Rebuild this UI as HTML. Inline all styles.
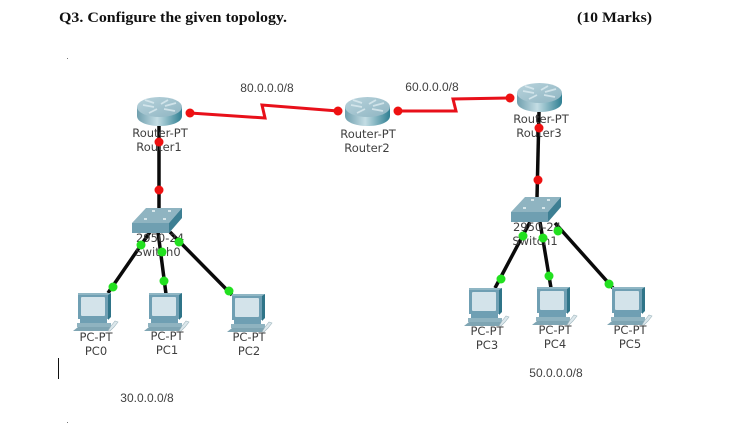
<!DOCTYPE html>
<html><head><meta charset="utf-8"><style>
html,body{margin:0;padding:0;background:#fff}
svg{display:block}
.l{font-family:"DejaVu Sans","Liberation Sans",sans-serif;font-size:11.500px;fill:#3f3f3f;text-anchor:middle}
.n{font-family:"Liberation Sans",sans-serif;font-size:12px;fill:#3f3f3f;text-anchor:middle}
.t{font-family:"Liberation Serif",serif;font-weight:bold;font-size:15px;fill:#111}
</style></head><body>
<svg width="729" height="431" viewBox="0 0 729 431" xmlns="http://www.w3.org/2000/svg">
<defs>
<linearGradient id="rs" x1="0" x2="1" y1="0" y2="0"><stop offset="0" stop-color="#6f9fae"/><stop offset=".45" stop-color="#c4dde4"/><stop offset="1" stop-color="#2f7f92"/></linearGradient>
<linearGradient id="rt" x1="0" x2="1" y1="0" y2="1"><stop offset="0" stop-color="#b8d3dc"/><stop offset="1" stop-color="#8fb5c2"/></linearGradient>
<g id="router">
<path d="M0 10V19C0 25 10 29 22.500 29S45 25 45 19V10Z" fill="url(#rs)"/>
<ellipse cx="22.500" cy="10" rx="22.500" ry="10" fill="url(#rt)"/>
<path d="M6 8L17 10M28 9L39 6M27 12L38 14M17 6L8 3M12 16L20 12M24 7L31 3" stroke="#dcebf0" stroke-width="1.800" fill="none" opacity=".8"/>
</g>
<g id="switch">
<path d="M0 15L14 0H50L37 15Z" fill="#8fb4c1"/>
<path d="M0 15H37V25H0Z" fill="#6f9fb1"/>
<path d="M37 15L50 0V10L37 25Z" fill="#3d7f93"/>
<path d="M12 11h3M31 11h3M20 3h3M36 3h3" stroke="#eef6f8" stroke-width="1.400"/>
</g>
<g id="pc">
<path d="M5 1H35V26H5Z" fill="#6f9fb3"/>
<path d="M35 1L38 0V24L35 27Z" fill="#2f7488"/>
<path d="M5 0H38L35 2H5Z" fill="#8fb6c4"/>
<rect x="8" y="4" width="24" height="19" rx="1" fill="#d3e3ea"/>
<path d="M7 26H34V30H7Z" fill="#6f9fb3"/>
<path d="M4 30H38V34H4Z" fill="#8fb3c0"/>
<path d="M0 38L5 34H38L35 38Z" fill="#7fa5b3"/>
<path d="M38 33L42 28L45 29L41 34L37 38H35Z" fill="#dde8ec" stroke="#9db5bd" stroke-width=".6"/>
</g>
</defs>

<text class="t" x="59" y="22" textLength="228" lengthAdjust="spacingAndGlyphs">Q3. Configure the given topology.</text>
<text class="t" x="577" y="22" textLength="75" lengthAdjust="spacingAndGlyphs">(10 Marks)</text>
<rect x="67" y="58" width="1" height="1" fill="#777"/>
<rect x="67" y="422" width="1" height="1" fill="#777"/>
<rect x="58" y="358" width="1" height="21" fill="#111"/>

<g fill="none" stroke="#e8101a" stroke-width="3">
<path d="M190 113L265 118L262 105L338 111"/>
<path d="M398 111L456 111L453 99L510 98"/>
</g>
<g fill="none" stroke="#0a0a0a" stroke-width="3.500">
<path d="M159 125L159 210"/>
<path d="M539 112L537 198"/>
<path d="M150 232L108 293M158 232L166 294M170 232L232 295"/>
<path d="M530 222L495 288M540 222L551 288M555 223L613 288"/>
</g>

<use href="#router" x="137" y="97"/>
<use href="#router" x="345" y="97"/>
<use href="#router" x="517" y="83"/>
<use href="#switch" x="132" y="208"/>
<use href="#switch" x="511" y="197"/>
<use href="#pc" x="73" y="293"/>
<use href="#pc" x="144" y="293"/>
<use href="#pc" x="227" y="294"/>
<use href="#pc" x="464" y="288"/>
<use href="#pc" x="532" y="287"/>
<use href="#pc" x="607" y="287"/>

<g>
<text class="l" x="160" y="137">Router-PT</text><text class="l" x="159" y="151">Router1</text>
<text class="l" x="368" y="138">Router-PT</text><text class="l" x="367" y="152">Router2</text>
<text class="l" x="541" y="123">Router-PT</text><text class="l" x="539" y="137">Router3</text>
<text class="l" x="160" y="242">2950-24</text><text class="l" x="158" y="256">Switch0</text>
<text class="l" x="537" y="231">2950-24</text><text class="l" x="535" y="245">Switch1</text>
<text class="l" x="96" y="341">PC-PT</text><text class="l" x="96" y="355">PC0</text>
<text class="l" x="167" y="340">PC-PT</text><text class="l" x="167" y="354">PC1</text>
<text class="l" x="249" y="341">PC-PT</text><text class="l" x="249" y="355">PC2</text>
<text class="l" x="487" y="335">PC-PT</text><text class="l" x="487" y="349">PC3</text>
<text class="l" x="555" y="334">PC-PT</text><text class="l" x="555" y="348">PC4</text>
<text class="l" x="630" y="334">PC-PT</text><text class="l" x="630" y="348">PC5</text>
<text class="n" x="267" y="92">80.0.0.0/8</text>
<text class="n" x="432" y="91">60.0.0.0/8</text>
<text class="n" x="147" y="402">30.0.0.0/8</text>
<text class="n" x="556" y="377">50.0.0.0/8</text>
</g>

<g fill="#ee1111">
<circle cx="190" cy="113" r="4.500"/><circle cx="338" cy="111" r="4.500"/>
<circle cx="398" cy="111" r="4.500"/><circle cx="510" cy="98" r="4.500"/>
<circle cx="159" cy="142" r="4.500"/><circle cx="159" cy="190" r="4.500"/>
<circle cx="539" cy="128" r="4.500"/><circle cx="538" cy="180" r="4.500"/>
</g>
<g fill="#22e01f">
<circle cx="141" cy="245" r="4.500"/><circle cx="113" cy="287" r="4.500"/>
<circle cx="162" cy="252" r="4.500"/><circle cx="164" cy="281" r="4.500"/>
<circle cx="179" cy="242" r="4.500"/><circle cx="229" cy="291" r="4.500"/>
<circle cx="523" cy="236" r="4.500"/><circle cx="501" cy="279" r="4.500"/>
<circle cx="543" cy="238" r="4.500"/><circle cx="549" cy="276" r="4.500"/>
<circle cx="558" cy="231" r="4.500"/><circle cx="609" cy="284" r="4.500"/>
</g>
</svg>
</body></html>
